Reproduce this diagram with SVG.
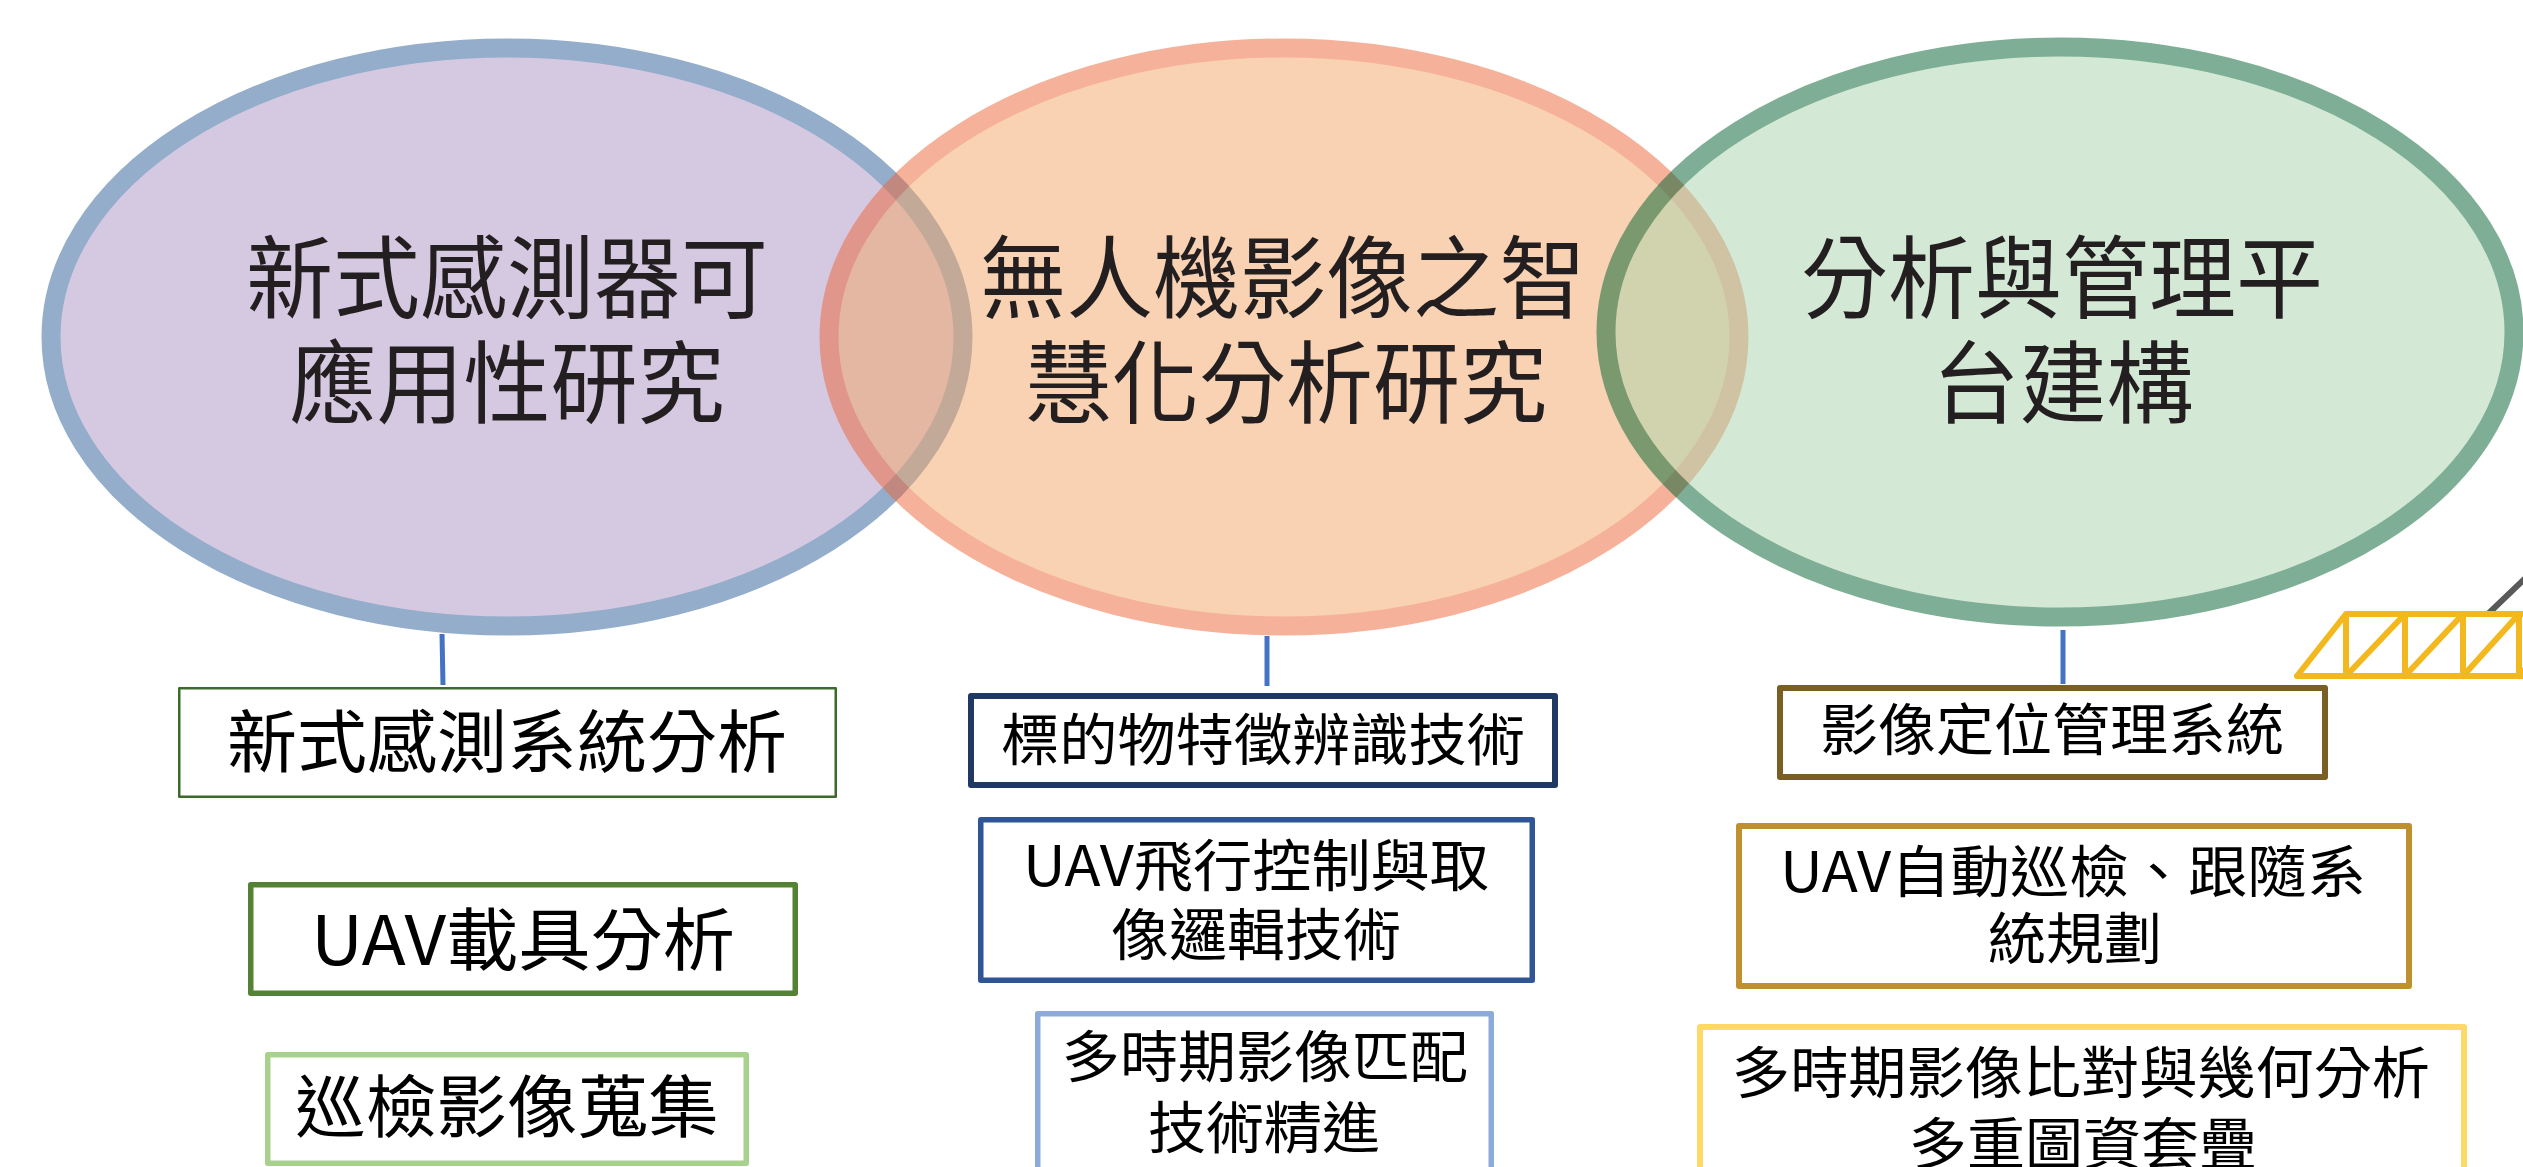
<svg xmlns="http://www.w3.org/2000/svg" width="2523" height="1167" viewBox="0 0 2523 1167">
  <style>
    .circle-text { font-family: "Noto Sans CJK TC", "Noto Sans CJK SC", sans-serif; font-size: 90px; fill: #231f20; text-anchor: middle; }
    .box-text { font-family: "Noto Sans CJK TC", "Noto Sans CJK SC", sans-serif; fill: #000000; text-anchor: middle; }
    .big { font-size: 68px; }
    .mid { font-size: 56px; }
    .box { fill: #ffffff; stroke-linejoin: round; }
    .link { stroke: #4472c4; stroke-width: 5; fill: none; }
    .truss { stroke: #f4b81f; stroke-width: 6; fill: none; stroke-linejoin: round; stroke-linecap: round; }
  </style>

  <rect width="2523" height="1167" fill="#ffffff"/>

  <!-- three overlapping research areas -->
  <g id="area-sensor">
    <g opacity="0.5">
      <ellipse cx="507" cy="337" rx="456" ry="289" fill="#ad93c5" stroke="#295d97" stroke-width="19"/>
    </g>
    <text class="circle-text" x="507" y="311" textLength="522" lengthAdjust="spacingAndGlyphs">新式感測器可</text>
    <text class="circle-text" x="507" y="416" textLength="435" lengthAdjust="spacingAndGlyphs">應用性研究</text>
  </g>

  <g id="area-uav-image">
    <g opacity="0.5">
      <ellipse cx="1284" cy="337" rx="455" ry="289" fill="#f3a767" stroke="#ed6537" stroke-width="19"/>
    </g>
    <text class="circle-text" x="1283" y="311" textLength="606" lengthAdjust="spacingAndGlyphs">無人機影像之智</text>
    <text class="circle-text" x="1286" y="416" textLength="522" lengthAdjust="spacingAndGlyphs">慧化分析研究</text>
  </g>

  <g id="area-platform">
    <g opacity="0.5">
      <ellipse cx="2060" cy="332" rx="454" ry="285" fill="#abd5ad" stroke="#00612f" stroke-width="19"/>
    </g>
    <text class="circle-text" x="2062" y="311" textLength="522" lengthAdjust="spacingAndGlyphs">分析與管理平</text>
    <text class="circle-text" x="2063" y="416" textLength="261" lengthAdjust="spacingAndGlyphs">台建構</text>
  </g>

  <!-- connectors from each area down to its first task -->
  <g id="connectors">
    <line class="link" x1="442" y1="634" x2="443" y2="685"/>
    <line class="link" x1="1267" y1="636" x2="1267" y2="686"/>
    <line class="link" x1="2063" y1="630" x2="2063" y2="684"/>
  </g>

  <!-- tasks under the sensor area -->
  <g id="task-sensor-system">
    <rect class="box" x="179.25" y="688.25" width="656.5" height="108.5" stroke="#3b6a2a" stroke-width="2.5"/>
    <text class="box-text big" x="507" y="767" textLength="560" lengthAdjust="spacingAndGlyphs">新式感測系統分析</text>
  </g>
  <g id="task-uav-carrier">
    <rect class="box" x="250.75" y="884.75" width="544.5" height="108.5" stroke="#548235" stroke-width="5.5"/>
    <text class="box-text big" x="523" y="965" textLength="424" lengthAdjust="spacingAndGlyphs">UAV載具分析</text>
  </g>
  <g id="task-image-collection">
    <rect class="box" x="267.75" y="1054.75" width="478.5" height="108.5" stroke="#a9d18e" stroke-width="5.5"/>
    <text class="box-text big" x="507" y="1132" textLength="424" lengthAdjust="spacingAndGlyphs">巡檢影像蒐集</text>
  </g>

  <!-- tasks under the UAV image area -->
  <g id="task-target-recognition">
    <rect class="box" x="971" y="696" width="584" height="89" stroke="#1f3864" stroke-width="6"/>
    <text class="box-text mid" x="1263" y="760" textLength="524" lengthAdjust="spacingAndGlyphs">標的物特徵辨識技術</text>
  </g>
  <g id="task-flight-control">
    <rect class="box" x="980.75" y="819.75" width="551.5" height="160.5" stroke="#2f5597" stroke-width="5.5"/>
    <text class="box-text mid" x="1256" y="886" textLength="466" lengthAdjust="spacingAndGlyphs">UAV飛行控制與取</text>
    <text class="box-text mid" x="1256" y="955" textLength="290" lengthAdjust="spacingAndGlyphs">像邏輯技術</text>
  </g>
  <g id="task-image-matching">
    <rect class="box" x="1037.75" y="1013.75" width="453.5" height="170" stroke="#8eaadb" stroke-width="5.5"/>
    <text class="box-text mid" x="1265" y="1077" textLength="406" lengthAdjust="spacingAndGlyphs">多時期影像匹配</text>
    <text class="box-text mid" x="1264" y="1148" textLength="232" lengthAdjust="spacingAndGlyphs">技術精進</text>
  </g>

  <!-- tasks under the platform area -->
  <g id="task-positioning">
    <rect class="box" x="1780" y="688" width="545" height="89" stroke="#7b5e24" stroke-width="6"/>
    <text class="box-text mid" x="2052" y="750" textLength="464" lengthAdjust="spacingAndGlyphs">影像定位管理系統</text>
  </g>
  <g id="task-auto-patrol">
    <rect class="box" x="1739" y="826" width="670" height="160" stroke="#bf9030" stroke-width="6"/>
    <text class="box-text mid" x="2073" y="892" textLength="586" lengthAdjust="spacingAndGlyphs">UAV自動巡檢、跟隨系</text>
    <text class="box-text mid" x="2075" y="959" textLength="174" lengthAdjust="spacingAndGlyphs">統規劃</text>
  </g>
  <g id="task-change-analysis">
    <rect class="box" x="1700" y="1027" width="764" height="170" stroke="#ffd966" stroke-width="6"/>
    <text class="box-text mid" x="2081" y="1093" textLength="698" lengthAdjust="spacingAndGlyphs">多時期影像比對與幾何分析</text>
    <text class="box-text mid" x="2083" y="1164" textLength="348" lengthAdjust="spacingAndGlyphs">多重圖資套疊</text>
  </g>

  <!-- truss girder with a cable, cut by the right edge -->
  <g id="truss">
    <line x1="2489" y1="613" x2="2560" y2="545" stroke="#595959" stroke-width="6" stroke-linecap="round"/>
    <path class="truss" d="M2297 676 L2346 614 L2530 614 M2297 676 L2530 676 M2346 614 V676 M2405 614 V676 M2463 614 V676 M2519 614 V676 M2346 676 L2405 614 M2405 676 L2463 614 M2463 676 L2519 614 M2519 676 L2560 630"/>
  </g>
</svg>
